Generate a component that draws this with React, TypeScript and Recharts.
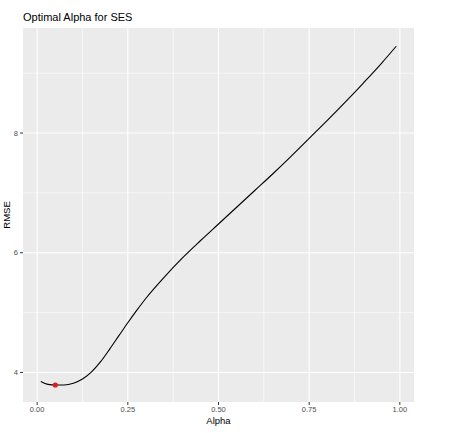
import React from "react";
import {
  CartesianGrid,
  ComposedChart,
  Label,
  Line,
  Scatter,
  XAxis,
  YAxis,
} from "recharts";

// RMSE of simple exponential smoothing over a sweep of alpha values
const alphas = [
  0.01, 0.03, 0.05, 0.075, 0.1, 0.125, 0.15, 0.175, 0.2, 0.225, 0.25, 0.275,
  0.3, 0.35, 0.4, 0.45, 0.5, 0.55, 0.6, 0.65, 0.7, 0.75, 0.8, 0.85, 0.9, 0.95,
  0.99,
];
const rmse = [
  3.85, 3.8, 3.79, 3.79, 3.82, 3.89, 4.01, 4.18, 4.39, 4.61, 4.83, 5.04, 5.24,
  5.59, 5.91, 6.2, 6.48, 6.76, 7.04, 7.32, 7.61, 7.91, 8.21, 8.52, 8.84, 9.17,
  9.45,
];

// best alpha, highlighted in red
const bestAlpha = [0.05];
const bestRmse = [3.79];

const xTicks = [0, 0.25, 0.5, 0.75, 1];
const xMinor = [0.125, 0.375, 0.625, 0.875];
const yTicks = [4, 6, 8];
const yMinor = [5, 7, 9];

const curve = alphas.map((a, i) => ({ alpha: a, rmse: rmse[i] }));
const best = bestAlpha.map((a, i) => ({ alpha: a, rmse: bestRmse[i] }));

const FONT = '"Liberation Sans", Arial, sans-serif';
const tickStyle = { fontSize: 7.5, fontFamily: FONT, fill: "#4D4D4D" };

export default function App() {
  return (
    <div
      style={{
        position: "absolute",
        left: 0,
        top: 0,
        width: 468,
        height: 433,
        background: "#fff",
        fontFamily: FONT,
      }}
    >
      <div
        style={{
          position: "absolute",
          left: 23,
          top: 11,
          fontSize: 11,
          lineHeight: "12px",
          color: "#000",
        }}
      >
        Optimal Alpha for SES
      </div>
      <ComposedChart
        width={468}
        height={433}
        data={curve}
        margin={{ top: 28, right: 54, bottom: 0, left: 3 }}
      >
        <CartesianGrid
          fill="#EBEBEB"
          stroke="#FFFFFF"
          strokeWidth={0.6}
          horizontalValues={yMinor}
          verticalValues={xMinor}
        />
        <CartesianGrid
          stroke="#FFFFFF"
          strokeWidth={1.1}
          horizontalValues={yTicks}
          verticalValues={xTicks}
        />
        <XAxis
          dataKey="alpha"
          type="number"
          domain={[-0.039, 1.039]}
          ticks={xTicks}
          allowDataOverflow
          tickFormatter={(v: number) => v.toFixed(2)}
          tick={tickStyle}
          tickSize={3}
          tickLine={{ stroke: "#333333" }}
          axisLine={false}
          height={31}
        >
          <Label
            value="Alpha"
            position="insideBottom"
            offset={9}
            style={{ fontSize: 9.5, fontFamily: FONT, fill: "#000" }}
          />
        </XAxis>
        <YAxis
          dataKey="rmse"
          type="number"
          domain={[3.506, 9.755]}
          ticks={yTicks}
          allowDataOverflow
          tick={tickStyle}
          tickSize={3}
          tickLine={{ stroke: "#333333" }}
          axisLine={false}
          width={20}
        >
          <Label
            content={(props: any) => {
              const vb = props.viewBox;
              const cx = vb.x + 7;
              const cy = vb.y + vb.height / 2;
              return (
                <text
                  x={cx}
                  y={cy}
                  transform={`rotate(-90, ${cx}, ${cy})`}
                  textAnchor="middle"
                  style={{ fontSize: 9.5, fontFamily: FONT, fill: "#000" }}
                >
                  RMSE
                </text>
              );
            }}
          />
        </YAxis>
        <Line
          type="monotone"
          dataKey="rmse"
          stroke="#000000"
          strokeWidth={1.1}
          dot={false}
          activeDot={false}
          isAnimationActive={false}
        />
        <Scatter
          data={best}
          dataKey="rmse"
          fill="#FF0000"
          shape={(p: any) => <circle cx={p.cx} cy={p.cy} r={2.6} fill="#E41A1C" />}
          isAnimationActive={false}
        />
      </ComposedChart>
    </div>
  );
}
